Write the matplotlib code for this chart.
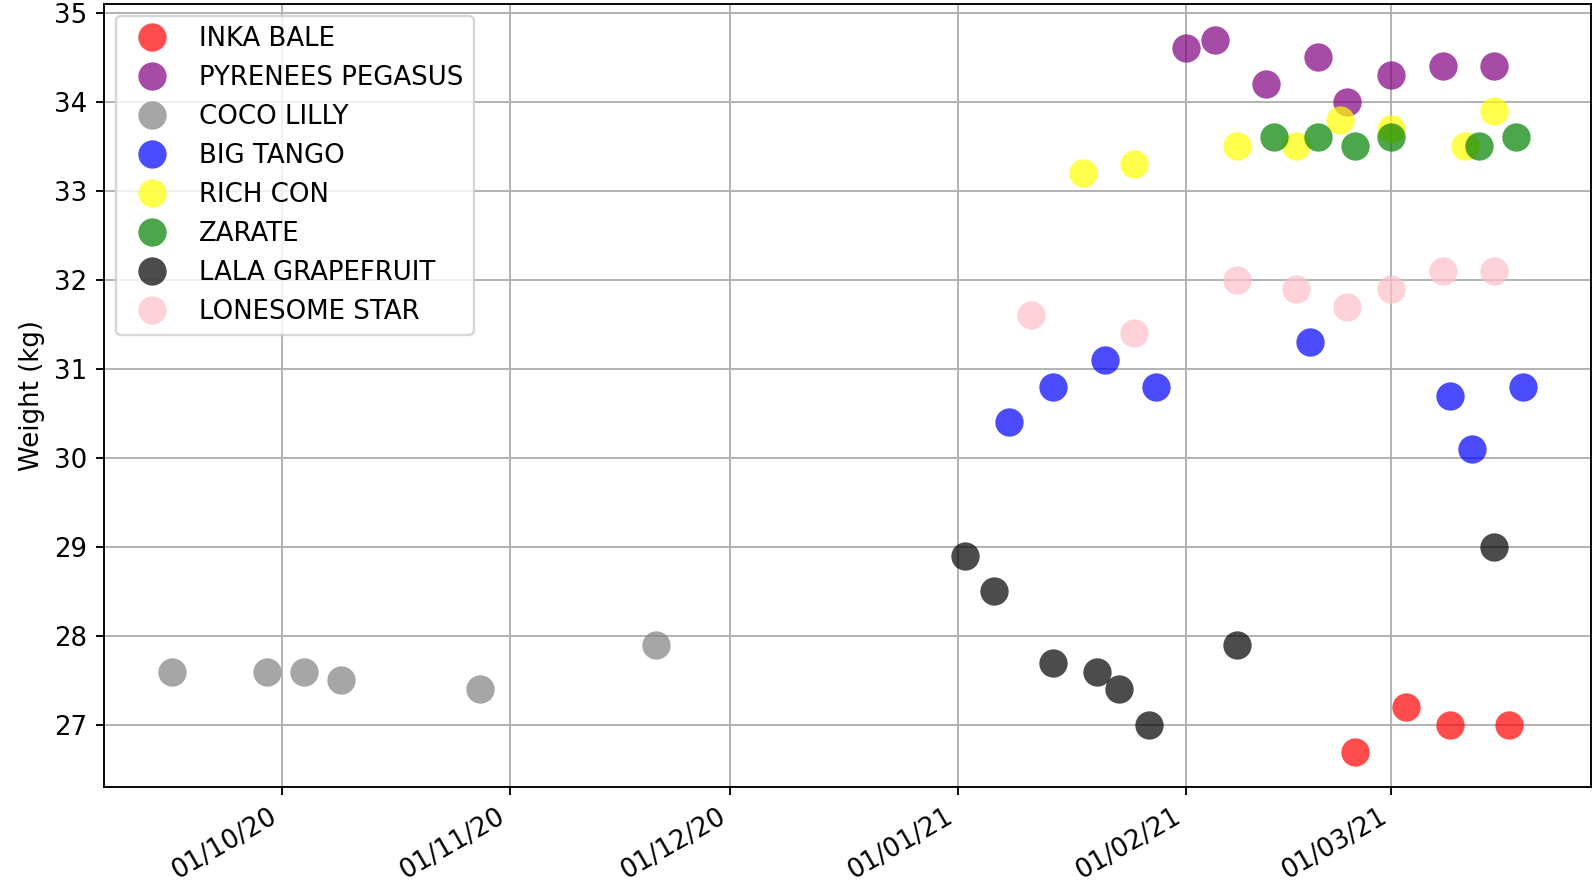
import matplotlib
matplotlib.use("Agg")
import matplotlib.pyplot as plt
import matplotlib.dates as mdates
import pandas as pd

# weigh-in dates and weights per horse
inka_bale_dates = ["2021-02-24", "2021-03-03", "2021-03-09", "2021-03-17"]
inka_bale_kg = [26.7, 27.2, 27.0, 27.0]

pyrenees_pegasus_dates = ["2021-02-01", "2021-02-05", "2021-02-12", "2021-02-19",
                          "2021-02-23", "2021-03-01", "2021-03-08", "2021-03-15"]
pyrenees_pegasus_kg = [34.6, 34.7, 34.2, 34.5, 34.0, 34.3, 34.4, 34.4]

coco_lilly_dates = ["2020-09-16", "2020-09-29", "2020-10-04", "2020-10-09",
                    "2020-10-28", "2020-11-21"]
coco_lilly_kg = [27.6, 27.6, 27.6, 27.5, 27.4, 27.9]

big_tango_dates = ["2021-01-08", "2021-01-14", "2021-01-21", "2021-01-28",
                   "2021-02-18", "2021-03-09", "2021-03-12", "2021-03-19"]
big_tango_kg = [30.4, 30.8, 31.1, 30.8, 31.3, 30.7, 30.1, 30.8]

rich_con_dates = ["2021-01-18", "2021-01-25", "2021-02-08", "2021-02-16",
                  "2021-02-22", "2021-03-01", "2021-03-11", "2021-03-15"]
rich_con_kg = [33.2, 33.3, 33.5, 33.5, 33.8, 33.7, 33.5, 33.9]

zarate_dates = ["2021-02-13", "2021-02-19", "2021-02-24", "2021-03-01",
                "2021-03-13", "2021-03-18"]
zarate_kg = [33.6, 33.6, 33.5, 33.6, 33.5, 33.6]

lala_grapefruit_dates = ["2021-01-02", "2021-01-06", "2021-01-14", "2021-01-20",
                         "2021-01-23", "2021-01-27", "2021-02-08", "2021-03-15"]
lala_grapefruit_kg = [28.9, 28.5, 27.7, 27.6, 27.4, 27.0, 27.9, 29.0]

lonesome_star_dates = ["2021-01-11", "2021-01-25", "2021-02-08", "2021-02-16",
                       "2021-02-23", "2021-03-01", "2021-03-08", "2021-03-15"]
lonesome_star_kg = [31.6, 31.4, 32.0, 31.9, 31.7, 31.9, 32.1, 32.1]

horses = [
    ("INKA BALE", inka_bale_dates, inka_bale_kg, "red"),
    ("PYRENEES PEGASUS", pyrenees_pegasus_dates, pyrenees_pegasus_kg, "purple"),
    ("COCO LILLY", coco_lilly_dates, coco_lilly_kg, "gray"),
    ("BIG TANGO", big_tango_dates, big_tango_kg, "blue"),
    ("RICH CON", rich_con_dates, rich_con_kg, "yellow"),
    ("ZARATE", zarate_dates, zarate_kg, "green"),
    ("LALA GRAPEFRUIT", lala_grapefruit_dates, lala_grapefruit_kg, "black"),
    ("LONESOME STAR", lonesome_star_dates, lonesome_star_kg, "pink"),
]

plt.rcParams["font.size"] = 11

fig = plt.figure(figsize=(9.365, 5.224), dpi=170)
ax = fig.add_axes([0.0653, 0.1134, 0.9341, 0.8821])

for name, dates, kg, colour in horses:
    ax.plot(pd.to_datetime(dates), kg, "o", color=colour, alpha=0.7,
            markersize=12, markeredgewidth=0, label=name)

ax.xaxis.set_major_locator(mdates.MonthLocator())
ax.xaxis.set_major_formatter(mdates.DateFormatter("%d/%m/%y"))
for lbl in ax.get_xticklabels():
    lbl.set_rotation(30)
    lbl.set_ha("right")

ax.set_ylabel("Weight (kg)")
ax.grid(True)
ax.legend(loc="upper left", borderaxespad=0.45)

fig.savefig("out.png", dpi=170)
